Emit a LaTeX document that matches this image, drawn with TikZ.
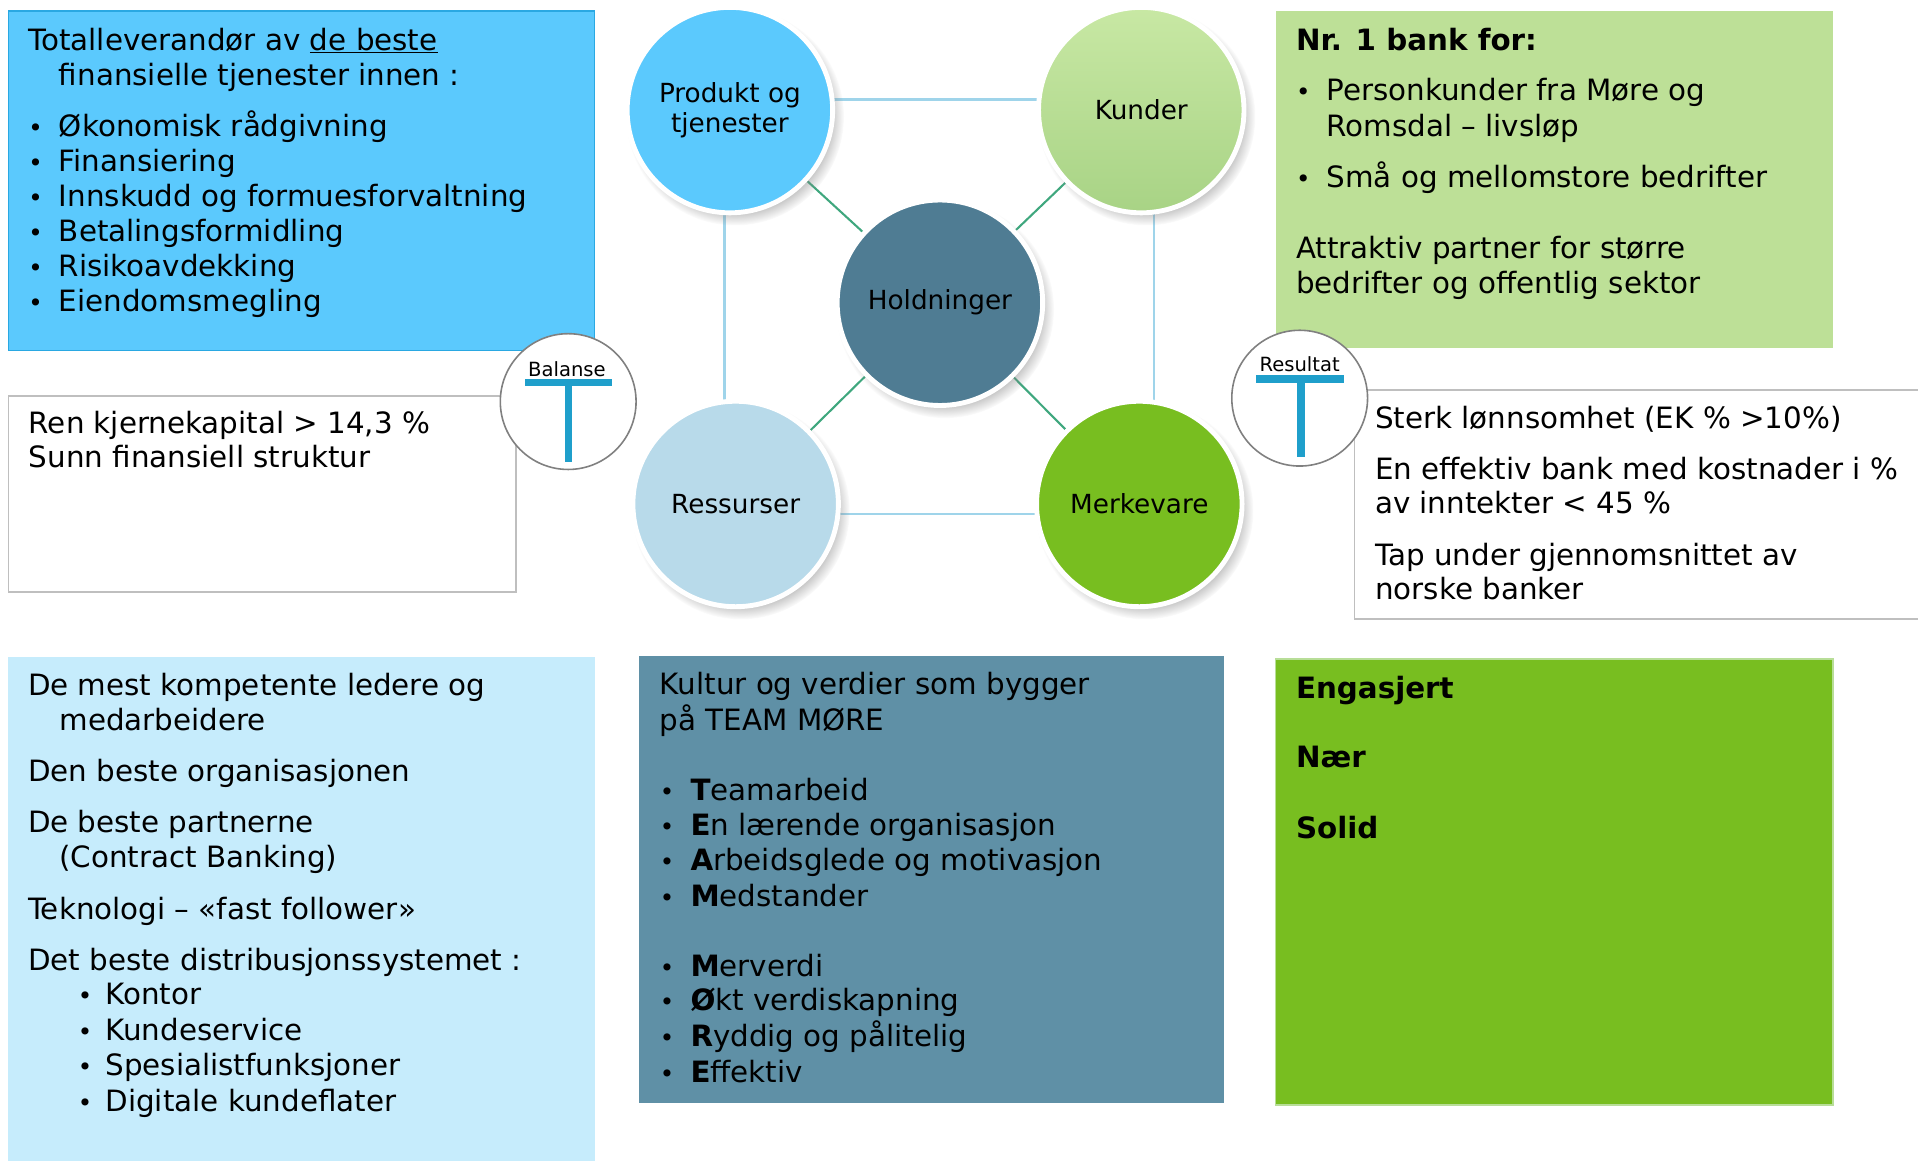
\documentclass[tikz,border=0pt]{standalone}
\usepackage{fontspec}
\setmainfont{DejaVu Sans}
\usetikzlibrary{shadows,backgrounds,fadings}
\definecolor{cblue}{HTML}{5BC9FD}
\definecolor{cblueedge}{HTML}{2AA8E2}
\definecolor{cpale}{HTML}{C6ECFC}
\definecolor{cteal}{HTML}{5F90A6}
\definecolor{chold}{HTML}{4F7C93}
\definecolor{cress}{HTML}{B8DAEA}
\definecolor{cgreen}{HTML}{78BE20}
\definecolor{cgreenedge}{HTML}{B8DE98}
\definecolor{clgreen}{HTML}{BDE097}
\definecolor{ckundtop}{HTML}{C8E8A4}
\definecolor{ckundbot}{HTML}{A8D385}
\definecolor{cgrayedge}{HTML}{BFBFBF}
\definecolor{ccircedge}{HTML}{808080}
\definecolor{cT}{HTML}{1F9FCB}
\definecolor{cline}{HTML}{9FD4EA}
\definecolor{cdiag}{HTML}{3FA77E}
\newcommand{\mybul}{\makebox[25pt][l]{\fontsize{20}{24}\selectfont•}}
\newcommand{\mysubbul}{\makebox[22.7pt][l]{\fontsize{20}{24}\selectfont•}}
\begin{document}
\begin{tikzpicture}[x=1pt,y=-1pt,
  txt/.style={anchor=base west, inner sep=0pt, font=\fontsize{24}{29}\selectfont, text=black},
  boxnode/.style={rectangle, anchor=north west, inner sep=0pt, outer sep=0pt},
  bigcirc/.style={circle, minimum size=168pt, inner sep=0pt, draw=white, line width=4pt,
    circular drop shadow={shadow xshift=4pt, shadow yshift=-5pt, opacity=0.55, shadow scale=1.06},
    font=\fontsize{21.5}{24}\selectfont, align=center, text=black},
  smallcirc/.style={circle, minimum size=111pt, inner sep=0pt, draw=ccircedge, line width=1.3pt, fill=white},
  smalllabel/.style={inner sep=0pt, anchor=base, font=\fontsize{16}{18}\selectfont},
  conn/.style={draw=cline, line width=1.9pt},
  diag/.style={draw=cdiag, line width=1.7pt},
  tbar/.style={fill=cT}
]
\useasboundingbox (0,0) rectangle (1568,949);

% ---------- boxes ----------
\node[boxnode, fill=cblue, draw=cblueedge, line width=1pt, minimum width=479.5pt, minimum height=277.7pt] (boxA) at (6.7,9) {};
\node[boxnode, fill=white, draw=cgrayedge, line width=1.5pt, minimum width=414.5pt, minimum height=160pt] (boxB) at (7,323.7) {};
\node[boxnode, fill=clgreen, minimum width=455.6pt, minimum height=275.8pt] (boxC) at (1042.8,9) {};
\node[boxnode, fill=white, draw=cgrayedge, line width=1.5pt, minimum width=470pt, minimum height=187.5pt] (boxD) at (1107.3,318.8) {};
\node[boxnode, fill=cpale, minimum width=479.5pt, minimum height=420pt] (boxE) at (6.7,536.8) {};
\node[boxnode, fill=cteal, minimum width=478.7pt, minimum height=365.5pt] (boxF) at (522,536) {};
\node[boxnode, fill=cgreen, draw=cgreenedge, line width=1pt, minimum width=455.6pt, minimum height=364.6pt] (boxG) at (1042.8,538.8) {};

% ---------- big circles ----------
\node[bigcirc, fill=cblue] (prod) at (596.7,90) {Produkt og\\tjenester};
\node[bigcirc, top color=ckundtop, bottom color=ckundbot] (kund) at (933,90) {Kunder};
\node[bigcirc, fill=chold] (hold) at (768.4,247.5) {Holdninger};
\node[bigcirc, fill=cress] (ress) at (601.4,412) {Ressurser};
\node[bigcirc, fill=cgreen] (merk) at (931.4,412) {Merkevare};

% ---------- connectors (behind) ----------
\coordinate (vl) at (592.3,0);
\coordinate (vr) at (943.3,0);
\coordinate (ht) at (0,81.3);
\coordinate (hb) at (0,420);
\begin{pgfonlayer}{background}
  \draw[conn] (prod |- ht) -- (kund |- ht);
  \draw[conn] (ress |- hb) -- (merk |- hb);
  \draw[conn] (vl |- prod) -- (vl |- ress);
  \draw[conn] (vr |- kund) -- (vr |- merk);
  \draw[diag] (hold) -- (prod);
  \draw[diag] (hold) -- (kund);
  \draw[diag] (hold) -- (ress);
  \draw[diag] (hold) -- (merk);
\end{pgfonlayer}

% ---------- small T circles ----------
\node[smallcirc] (bal) at (464.5,328.3) {};
\node[smalllabel] (ballab) at (463.5,307.4) {Balanse};
\fill[tbar] ([shift={(-35.5,-18.3)}]bal.center) rectangle ([shift={(35.5,-12.7)}]bal.center);
\fill[tbar] ([shift={(-2.8,-13)}]bal.center) rectangle ([shift={(3.5,49.1)}]bal.center);

\node[smallcirc] (res) at (1062.5,325.5) {};
\node[smalllabel] (reslab) at (1062.5,304) {Resultat};
\fill[tbar] ([shift={(-35.5,-18.9)}]res.center) rectangle ([shift={(36.5,-12.6)}]res.center);
\fill[tbar] ([shift={(-2.5,-13)}]res.center) rectangle ([shift={(4,48.5)}]res.center);

% ---------- text: top-left ----------
\node[txt] (a1) at (23,41) {Totalleverandør av \underline{de beste}};
\node[txt] (a2) at (48,70) {finansielle tjenester innen :};
\node[txt] (a3) at (23,111.7) {\mybul Økonomisk rådgivning};
\node[txt] (a4) at (23,140.3) {\mybul Finansiering};
\node[txt] (a5) at (23,169) {\mybul Innskudd og formuesforvaltning};
\node[txt] (a6) at (23,197.6) {\mybul Betalingsformidling};
\node[txt] (a7) at (23,226.2) {\mybul Risikoavdekking};
\node[txt] (a8) at (23,254.8) {\mybul Eiendomsmegling};

% ---------- text: left white ----------
\node[txt] (b1) at (23.4,354) {Ren kjernekapital > 14,3 \%};
\node[txt] (b2) at (23.4,382.3) {Sunn finansiell struktur};

% ---------- text: top-right ----------
\node[txt] (c1) at (1059.3,41.4) {\textbf{Nr. 1 bank for:}};
\node[txt] (c2) at (1059.3,82.3) {\mybul Personkunder fra Møre og};
\node[txt] (c3) at (1084.3,111.2) {Romsdal – livsløp};
\node[txt] (c4) at (1059.3,153.4) {\mybul Små og mellomstore bedrifter};
\node[txt] (c5) at (1059.3,211.2) {Attraktiv partner for større};
\node[txt] (c6) at (1059.3,239.8) {bedrifter og offentlig sektor};

% ---------- text: right white ----------
\node[txt] (d1) at (1124,350.2) {Sterk lønnsomhet (EK \% >10\%)};
\node[txt] (d2) at (1124,391.9) {En effektiv bank med kostnader i \%};
\node[txt] (d3) at (1124,420.2) {av inntekter < 45 \%};
\node[txt] (d4) at (1124,461.9) {Tap under gjennomsnittet av};
\node[txt] (d5) at (1124,490) {norske banker};

% ---------- text: bottom-left ----------
\node[txt] (e1) at (22.7,568.5) {De mest kompetente ledere og};
\node[txt] (e2) at (48.4,597.5) {medarbeidere};
\node[txt] (e3) at (22.7,638.5) {Den beste organisasjonen};
\node[txt] (e4) at (22.7,680.5) {De beste partnerne};
\node[txt] (e5) at (48.4,709.5) {(Contract Banking)};
\node[txt] (e6) at (22.7,751.5) {Teknologi – «fast follower»};
\node[txt] (e7) at (22.7,793.5) {Det beste distribusjonssystemet :};
\node[txt] (e8) at (63.4,821.5) {\mysubbul Kontor};
\node[txt] (e9) at (63.4,850.5) {\mysubbul Kundeservice};
\node[txt] (e10) at (63.4,879.5) {\mysubbul Spesialistfunksjoner};
\node[txt] (e11) at (63.4,908.5) {\mysubbul Digitale kundeflater};

% ---------- text: bottom-middle ----------
\node[txt] (f1) at (539.3,567.6) {Kultur og verdier som bygger};
\node[txt] (f2) at (539.3,596.8) {på TEAM MØRE};
\node[txt] (f3) at (539.3,654.6) {\mybul\textbf{T}eamarbeid};
\node[txt] (f4) at (539.3,683.4) {\mybul\textbf{E}n lærende organisasjon};
\node[txt] (f5) at (539.3,712) {\mybul\textbf{A}rbeidsglede og motivasjon};
\node[txt] (f6) at (539.3,741.2) {\mybul\textbf{M}edstander};
\node[txt] (f7) at (539.3,798.5) {\mybul\textbf{M}erverdi};
\node[txt] (f8) at (539.3,826.5) {\mybul\textbf{Ø}kt verdiskapning};
\node[txt] (f9) at (539.3,855.7) {\mybul\textbf{R}yddig og pålitelig};
\node[txt] (f10) at (539.3,884.8) {\mybul\textbf{E}ffektiv};

% ---------- text: bottom-right ----------
\node[txt] (g1) at (1059.3,570.9) {\textbf{Engasjert}};
\node[txt] (g2) at (1059.3,627.3) {\textbf{Nær}};
\node[txt] (g3) at (1059.3,685.3) {\textbf{Solid}};
\end{tikzpicture}
\end{document}
